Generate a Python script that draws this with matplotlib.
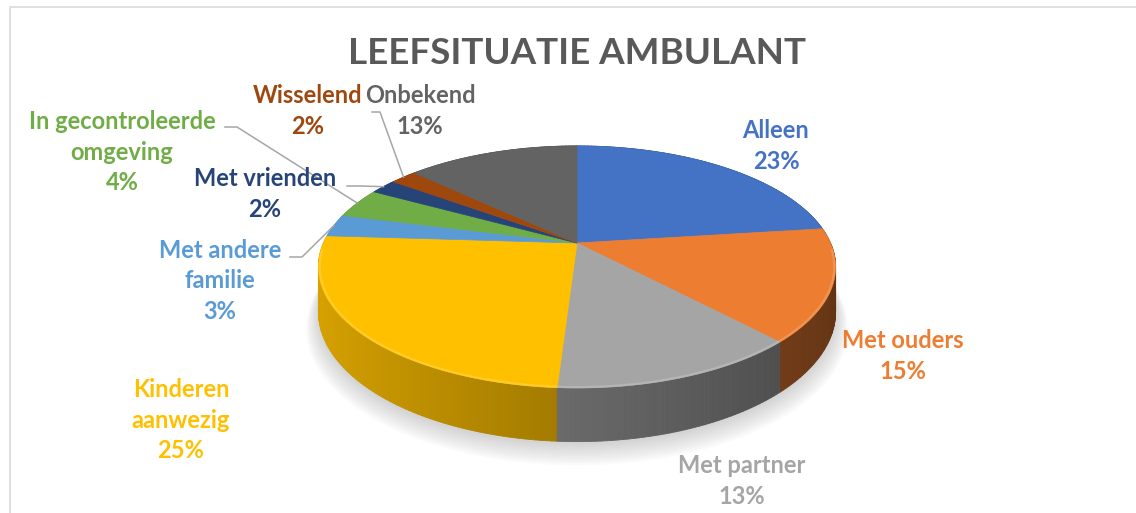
"""3D taartdiagram leefsituatie ambulant"""
import numpy as np
import matplotlib
matplotlib.use("Agg")
import matplotlib.pyplot as plt
from matplotlib.patches import Polygon
from matplotlib.collections import PolyCollection
from matplotlib.colors import to_rgb

plt.rcParams['font.family'] = ['Lato', 'DejaVu Sans']

# data (vanaf 12 uur, met de klok mee)
categorieen = ["Alleen", "Met ouders", "Met partner", "Kinderen aanwezig",
               "Met andere familie", "In gecontroleerde omgeving",
               "Met vrienden", "Wisselend", "Onbekend"]
percentages = [23, 15, 13, 25, 3, 4, 2, 2, 13]
label_namen = ["Alleen", "Met ouders", "Met partner", "Kinderen\naanwezig",
               "Met andere\nfamilie", "In gecontroleerde\nomgeving",
               "Met vrienden", "Wisselend", "Onbekend"]
kleuren = ["#4472C4", "#ED7D31", "#A5A5A5", "#FFC000", "#5B9BD5",
           "#70AD47", "#264478", "#9E480E", "#636363"]
titel = "LEEFSITUATIE AMBULANT"

# layout (pixels)
W, H_FIG = 1136, 513
CX, CY = 577, 243
RX, RY, DIEPTE, PERSP = 253.5, 116.3, 43, 0.198
label_pos = [(776, 146), (903, 356), (742, 481), (181, 420), (220, 281),
             (122, 152), (265, 194), (308, 111), (420, 111)]
# leader lines: startpunt en knikpunt, eindpunt op de rand van de punt
leaders = {4: [(290, 257), (302, 257)], 5: [(225, 127), (237, 127)],
           6: [(347, 186), (360, 186)], 7: [(372, 112), (380, 112)]}


def projecteer(phi, r=1.0, z=0.0):
    """ hoek (met de klok mee vanaf boven) -> pixel coordinaten """
    u = r * np.sin(phi)
    v = r * np.cos(phi)
    s = 1.0 / (1.0 + PERSP * v)
    return CX + RX * u * s, CY - (RY * v + DIEPTE * z) * s


def schaduw(kleur, u):
    f = np.clip(0.63 - 0.22 * u, 0.3, 1.0)
    return tuple(c * f for c in to_rgb(kleur))


fig = plt.figure(figsize=(W / 100, H_FIG / 100), dpi=100)
ax = fig.add_axes([0, 0, 1, 1])
ax.set_xlim(0, W)
ax.set_ylim(H_FIG, 0)
ax.axis('off')

# rand van het diagramgebied
ax.plot([10, 10, W + 5], [H_FIG + 5, 7, 7], color="#D9D9D9", lw=1.2)

fracties = np.array(percentages) / sum(percentages)
grenzen = np.concatenate([[0], np.cumsum(fracties)]) * 2 * np.pi

# zachte schaduw onder de taart
rondom = np.linspace(0, 2 * np.pi, 200)
for i in range(10):
    xs, ys = projecteer(rondom, r=1.0 + 0.005 * i, z=-1)
    ax.add_patch(Polygon(np.column_stack([xs, ys + 3 + 1.3 * i]),
                         closed=True, facecolor="#7F7F7F", edgecolor='none',
                         alpha=0.035, zorder=1))

# zijkanten
quads, kl, diepte = [], [], []
for i, kleur in enumerate(kleuren):
    a0, a1 = grenzen[i], grenzen[i + 1]
    n = int(np.degrees(a1 - a0)) + 2
    phis = np.linspace(a0, a1, n)
    for p0, p1 in zip(phis[:-1], phis[1:]):
        x0, y0 = projecteer(p0)
        x1, y1 = projecteer(p1)
        x2, y2 = projecteer(p1, z=-1)
        x3, y3 = projecteer(p0, z=-1)
        pm = 0.5 * (p0 + p1)
        quads.append([(x0, y0), (x1, y1), (x2, y2), (x3, y3)])
        kl.append(schaduw(kleur, np.sin(pm)))
        diepte.append(np.cos(pm))
volgorde = np.argsort(diepte)[::-1]
ax.add_collection(PolyCollection([quads[j] for j in volgorde],
                                 facecolors=[kl[j] for j in volgorde],
                                 edgecolors=[kl[j] for j in volgorde],
                                 linewidths=0.6, zorder=2))

# bovenkant
for i, kleur in enumerate(kleuren):
    phis = np.linspace(grenzen[i], grenzen[i + 1], 80)
    xs, ys = projecteer(phis)
    pts = [(CX, CY)] + list(zip(xs, ys))
    ax.add_patch(Polygon(pts, closed=True, facecolor=kleur, edgecolor=kleur,
                         lw=0.5, zorder=3))
    # lichte rand aan de voorkant
    voor = phis[np.cos(phis) < -0.05]
    if len(voor) > 1:
        lx, ly = projecteer(voor, r=0.995)
        licht = tuple(c + (1 - c) * 0.35 for c in to_rgb(kleur))
        ax.plot(lx, ly, color=licht, lw=1.6, alpha=0.5, zorder=4,
                solid_capstyle='butt')

# labels
for i, (naam, pct) in enumerate(zip(label_namen, percentages)):
    x, y = label_pos[i]
    ax.text(x, y, f"{naam}\n{pct}%", color=kleuren[i], fontsize=17,
            fontweight='bold', ha='center', va='center', linespacing=1.38,
            zorder=6)

# verbindingslijnen
for i, (start, knik) in leaders.items():
    mid = 0.5 * (grenzen[i] + grenzen[i + 1])
    ex, ey = projecteer(mid)
    ax.plot([start[0], knik[0], ex], [start[1], knik[1], ey],
            color="#A6A6A6", lw=1.1, zorder=5)

ax.text(577, 54, titel, color="#595959", fontsize=26.5, fontweight='bold',
        ha='center', va='center', zorder=6)

fig.savefig("out.png", dpi=100)
